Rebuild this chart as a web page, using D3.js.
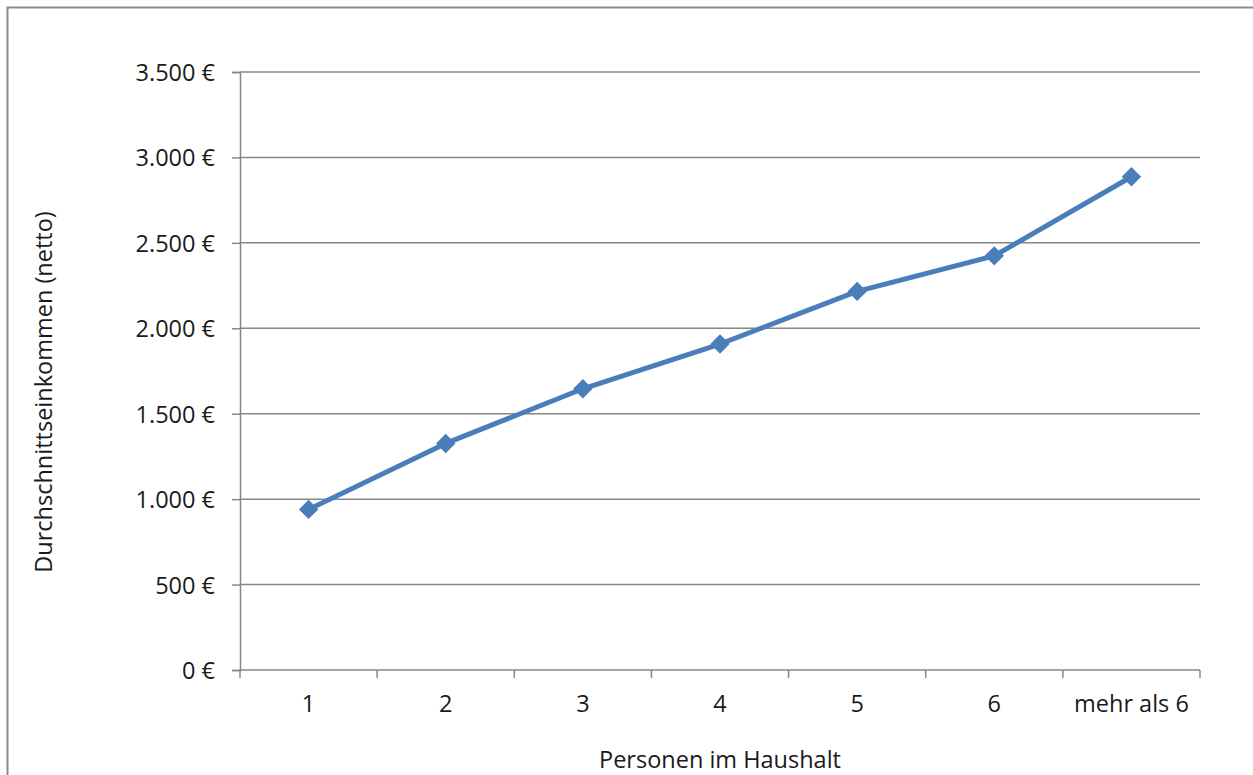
<!DOCTYPE html>
<html>
<head>
<meta charset="utf-8">
<script src="https://cdn.jsdelivr.net/npm/d3@7"></script>
<style>
  html, body { margin: 0; padding: 0; background: #fff; }
  svg { display: block; }
  text { font-family: "Open Sans", Lato, sans-serif; fill: #1a1a1a; }
</style>
</head>
<body>
<svg id="chart" width="1253" height="775"></svg>
<script>
// Household size categories and average net income (EUR)
const categories = ["1", "2", "3", "4", "5", "6", "mehr als 6"];
const income = [940, 1326, 1646, 1908, 2216, 2424, 2887];
const yTicks = [0, 500, 1000, 1500, 2000, 2500, 3000, 3500];
const xTitle = "Personen im Haushalt";
const yTitle = "Durchschnittseinkommen (netto)";

const svg = d3.select("#chart");
const margin = { left: 240, right: 1200, top: 72, bottom: 670 };
const FS = 23.5;

// Outer chart frame
svg.append("rect")
  .attr("x", 7.5).attr("y", 7.5)
  .attr("width", 1260).attr("height", 800)
  .attr("fill", "none").attr("stroke", "#8c8c8c").attr("stroke-width", 2);

const x = d3.scaleBand().domain(categories).range([margin.left, margin.right]).padding(0);
const y = d3.scaleLinear().domain([0, 3500]).range([margin.bottom, margin.top]);

const fmt = v => d3.format(",")(v).replace(/,/g, ".") + " €";

// Horizontal gridlines
svg.append("g").selectAll("line").data(yTicks.filter(d => d > 0)).join("line")
  .attr("x1", margin.left).attr("x2", margin.right)
  .attr("y1", d => y(d)).attr("y2", d => y(d))
  .attr("stroke", "#868686").attr("stroke-width", 1.5);

// Y axis
const yAxis = svg.append("g")
  .attr("transform", `translate(${margin.left},0)`)
  .call(d3.axisLeft(y).tickValues(yTicks).tickFormat(fmt).tickSize(8).tickPadding(17));
yAxis.attr("font-size", null).attr("font-family", null);
yAxis.select(".domain").attr("stroke", "#868686").attr("stroke-width", 1.5);
yAxis.selectAll(".tick line").attr("stroke", "#868686").attr("stroke-width", 1.5);
yAxis.selectAll("text").attr("font-size", FS).attr("fill", "#1a1a1a").attr("dy", "0.36em");

// X axis with ticks at category boundaries
const xAxisG = svg.append("g").attr("transform", `translate(0,${margin.bottom})`);
xAxisG.append("line")
  .attr("x1", margin.left).attr("x2", margin.right)
  .attr("stroke", "#868686").attr("stroke-width", 1.5);
const bounds = categories.map(c => x(c)).concat([x(categories[categories.length - 1]) + x.bandwidth()]);
xAxisG.selectAll(".b").data(bounds).join("line")
  .attr("x1", d => d).attr("x2", d => d).attr("y1", 0).attr("y2", 8)
  .attr("stroke", "#868686").attr("stroke-width", 1.5);
xAxisG.selectAll("text").data(categories).join("text")
  .attr("x", d => x(d) + x.bandwidth() / 2).attr("y", 42)
  .attr("text-anchor", "middle").attr("font-size", FS)
  .text(d => d);

// Data line
const cx = d => x(d) + x.bandwidth() / 2;
svg.append("path")
  .datum(categories.map((c, i) => [cx(c), y(income[i])]))
  .attr("d", d3.line())
  .attr("fill", "none").attr("stroke", "#4a7ebb").attr("stroke-width", 5)
  .attr("stroke-linejoin", "round");

// Diamond markers
svg.append("g").selectAll("path").data(categories).join("path")
  .attr("transform", (c, i) => `translate(${cx(c)},${y(income[i])})`)
  .attr("d", d3.symbol(d3.symbolDiamond2, 240))
  .attr("fill", "#4a7ebb");

// Axis titles
svg.append("text")
  .attr("x", (margin.left + margin.right) / 2).attr("y", 768)
  .attr("text-anchor", "middle").attr("font-size", FS).text(xTitle);
svg.append("text")
  .attr("transform", `translate(52,392) rotate(-90)`)
  .attr("text-anchor", "middle").attr("font-size", FS).text(yTitle);
</script>
</body>
</html>
